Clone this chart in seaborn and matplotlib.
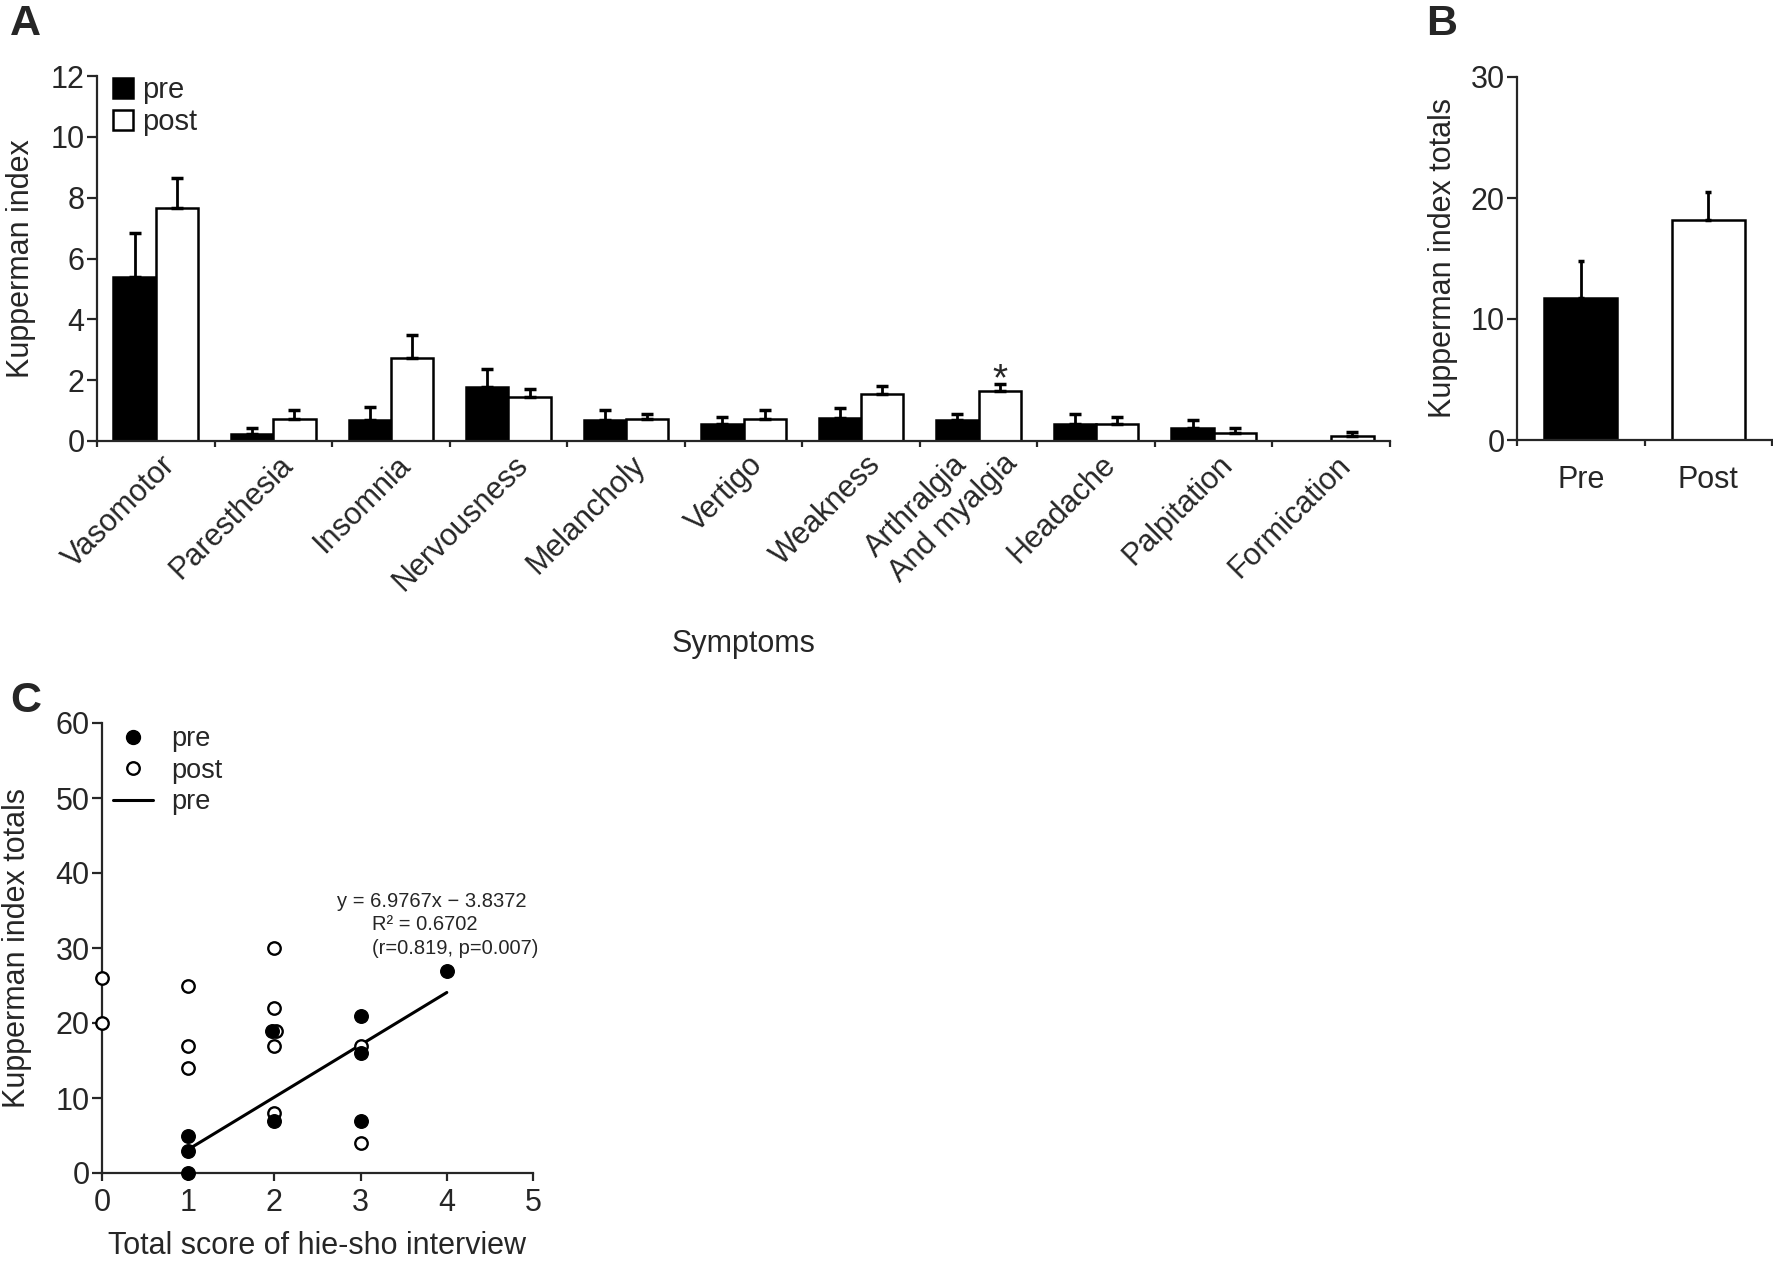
import numpy as np
import pandas as pd
import seaborn as sns
import matplotlib
matplotlib.use("Agg")
import matplotlib.pyplot as plt
import matplotlib.transforms as mtransforms
from matplotlib.patches import Patch
from matplotlib.lines import Line2D

# Panel A: Kupperman index per symptom (mean, upper SEM)
symptoms = ["Vasomotor", "Paresthesia", "Insomnia", "Nervousness", "Melancholy",
            "Vertigo", "Weakness", "Arthralgia\nAnd myalgia", "Headache",
            "Palpitation", "Formication"]
pre_mean = [5.39, 0.22, 0.68, 1.79, 0.68, 0.57, 0.77, 0.68, 0.55, 0.44, 0.0]
pre_sem = [1.45, 0.22, 0.44, 0.59, 0.35, 0.21, 0.31, 0.20, 0.33, 0.24, 0.0]
post_mean = [7.66, 0.71, 2.73, 1.44, 0.71, 0.71, 1.54, 1.63, 0.55, 0.25, 0.16]
post_sem = [0.98, 0.32, 0.76, 0.27, 0.19, 0.32, 0.28, 0.26, 0.23, 0.19, 0.13]
signif = "Arthralgia\nAnd myalgia"

# Panel B: totals
totals_groups = ["Pre", "Post"]
totals_mean = [11.7, 18.2]
totals_sem = [3.1, 2.3]

# Panel C: hie-sho score vs Kupperman totals
pre_score = [1, 1, 1, 2, 2, 3, 3, 3, 4]
pre_jitter = [0, 0, 0, -0.03, 0, 0, 0, 0, 0]
pre_total = [5, 3, 0, 19, 7, 21, 16, 7, 27]
post_score = [0, 0, 1, 1, 1, 2, 2, 2, 2, 2, 3, 3]
post_jitter = [0, 0, 0, 0, 0, 0, 0, 0.02, 0, 0, 0, 0]
post_total = [26, 20, 25, 17, 14, 30, 22, 19, 17, 8, 17, 4]
fit_text = ["y = 6.9767x \u2212 3.8372", "R\u00b2 = 0.6702", "(r=0.819, p=0.007)"]

sns.set_style("ticks")
plt.rcParams["font.family"] = ["Liberation Sans", "DejaVu Sans"]
plt.rcParams["axes.linewidth"] = 1.6
plt.rcParams["xtick.major.width"] = 1.6
plt.rcParams["ytick.major.width"] = 1.6
plt.rcParams["xtick.minor.width"] = 1.6

W, H = 1773, 1266
fig = plt.figure(figsize=(W / 100, H / 100), dpi=100)


def px_axes(l, r, t, b):
    return fig.add_axes([l / W, 1 - b / H, (r - l) / W, (b - t) / H])


FS = 22
LW = 1.8

# ---------------- Panel A ----------------
axA = px_axes(97, 1390, 76, 441)
dfA = pd.DataFrame({
    "symptom": symptoms * 2,
    "phase": ["pre"] * len(symptoms) + ["post"] * len(symptoms),
    "value": pre_mean + post_mean,
})
sns.barplot(data=dfA, x="symptom", y="value", hue="phase", order=symptoms,
            hue_order=["pre", "post"], palette={"pre": "black", "post": "white"},
            edgecolor="black", linewidth=LW, width=0.72, errorbar=None,
            legend=False, ax=axA)
bars = axA.patches
n = len(symptoms)
errs = np.array(pre_sem + post_sem)
xs = np.array([p.get_x() + p.get_width() / 2 for p in bars[:2 * n]])
ys = np.array([p.get_height() for p in bars[:2 * n]])
m = errs > 0
axA.errorbar(xs[m], ys[m], yerr=[np.zeros(m.sum()), errs[m]], fmt="none",
             ecolor="black", elinewidth=2.0, capsize=4, capthick=2.5, zorder=1)
k = symptoms.index(signif)
axA.text(xs[n + k], ys[n + k] + errs[n + k] - 0.21, "*", ha="center",
         va="baseline", fontsize=28)

axA.set_xlim(-0.5, n - 0.5)
axA.set_ylim(0, 12)
axA.set_yticks(range(0, 13, 2))
axA.set_xticks(np.arange(-0.5, n, 1), minor=True)
axA.set_xticks(range(n))
axA.set_xticklabels(symptoms, rotation=45, ha="right", va="center",
                    rotation_mode="anchor")
axA.tick_params(axis="x", which="major", length=0, pad=14, labelsize=FS)
axA.tick_params(axis="x", which="minor", length=4, direction="out")
axA.tick_params(axis="y", length=7, pad=2, labelsize=FS)
for i, lab in enumerate(axA.get_xticklabels()):
    dx, dy = 0.15, 0.0
    if "\n" in lab.get_text():
        lab.set_multialignment("left")
        dx, dy = 0.22, 0.14
    lab.set_transform(lab.get_transform() +
                      mtransforms.ScaledTranslation(dx, dy, fig.dpi_scale_trans))
axA.set_xlabel("Symptoms", fontsize=FS)
axA.xaxis.set_label_coords(0.5, -0.515)
axA.set_ylabel("Kupperman index", fontsize=FS)
axA.yaxis.set_label_coords(-0.047, 0.5)
hA = [Patch(facecolor="black", edgecolor="black", linewidth=LW),
      Patch(facecolor="white", edgecolor="black", linewidth=LW)]
axA.legend(hA, ["pre", "post"], loc="upper left", bbox_to_anchor=(0.012, 1.0),
           frameon=False, fontsize=21, handlelength=0.7, handleheight=0.7,
           handletextpad=0.3, labelspacing=0.15, borderpad=0, borderaxespad=0)
sns.despine(ax=axA)

# ---------------- Panel B ----------------
axB = px_axes(1517, 1772, 77, 440)
sns.barplot(x=totals_groups, y=totals_mean, hue=totals_groups,
            palette=["black", "white"], edgecolor="black", linewidth=LW,
            width=0.57, errorbar=None, legend=False, ax=axB)
bx = [p.get_x() + p.get_width() / 2 for p in axB.patches[:2]]
by = [p.get_height() for p in axB.patches[:2]]
axB.errorbar(bx, by, yerr=[[0, 0], totals_sem], fmt="none", ecolor="black",
             elinewidth=2.0, capsize=2.5, capthick=2.5, zorder=1)
axB.set_xlim(-0.5, 1.5)
axB.set_ylim(0, 30)
axB.set_yticks([0, 10, 20, 30])
axB.set_xticks([-0.5, 0.5, 1.5], minor=True)
axB.tick_params(axis="x", which="major", length=0, pad=18, labelsize=FS)
axB.tick_params(axis="x", which="minor", length=4, direction="out")
axB.tick_params(axis="y", length=7, pad=2, labelsize=FS)
axB.set_ylabel("Kupperman index totals", fontsize=FS)
axB.yaxis.set_label_coords(-0.23, 0.5)
axB.set_xlabel("")
sns.despine(ax=axB)

# ---------------- Panel C ----------------
axC = px_axes(102, 533, 723, 1173)
sns.regplot(x=pre_score, y=pre_total, scatter=False, ci=None, truncate=True,
            line_kws=dict(color="black", lw=2.2), ax=axC)
sns.scatterplot(x=np.add(post_score, post_jitter), y=post_total, marker="o",
                s=80, facecolor="white", edgecolor="black", linewidth=1.7,
                clip_on=False, zorder=3, ax=axC)
sns.scatterplot(x=np.add(pre_score, pre_jitter), y=pre_total, marker="o",
                s=95, color="black", edgecolor="black", linewidth=1,
                clip_on=False, zorder=4, ax=axC)
axC.set_xlim(0, 5)
axC.set_ylim(0, 60)
axC.set_xticks(range(6))
axC.set_yticks(range(0, 61, 10))
axC.tick_params(axis="x", length=6, pad=5, labelsize=FS)
axC.tick_params(axis="y", length=7, pad=2, labelsize=FS)
axC.set_xlabel("Total score of hie-sho interview", fontsize=FS)
axC.xaxis.set_label_coords(0.5, -0.13)
axC.set_ylabel("Kupperman index totals", fontsize=FS)
axC.yaxis.set_label_coords(-0.162, 0.5)
axC.text(2.73, 36.2, fit_text[0], fontsize=14.5, va="center", ha="left")
axC.text(3.13, 33.1, fit_text[1], fontsize=14.5, va="center", ha="left")
axC.text(3.13, 29.9, fit_text[2], fontsize=14.5, va="center", ha="left")
hC = [Line2D([], [], marker="o", ls="none", color="black", markersize=10),
      Line2D([], [], marker="o", ls="none", markerfacecolor="white",
             markeredgecolor="black", markeredgewidth=1.7, markersize=9),
      Line2D([], [], color="black", lw=2.2)]
axC.legend(hC, ["pre", "post", "pre"], loc="upper left",
           bbox_to_anchor=(0.025, 0.993), frameon=False, fontsize=19.5,
           handlelength=1.5, handletextpad=0.65, labelspacing=0.2,
           borderpad=0, borderaxespad=0)
sns.despine(ax=axC)

# panel letters
for letter, x, y in [("A", 10, 4), ("B", 1426, 4), ("C", 10, 681)]:
    fig.text(x / W, 1 - y / H, letter, fontsize=31, fontweight="bold",
             va="top", ha="left")

fig.savefig("out.png", dpi=100)
